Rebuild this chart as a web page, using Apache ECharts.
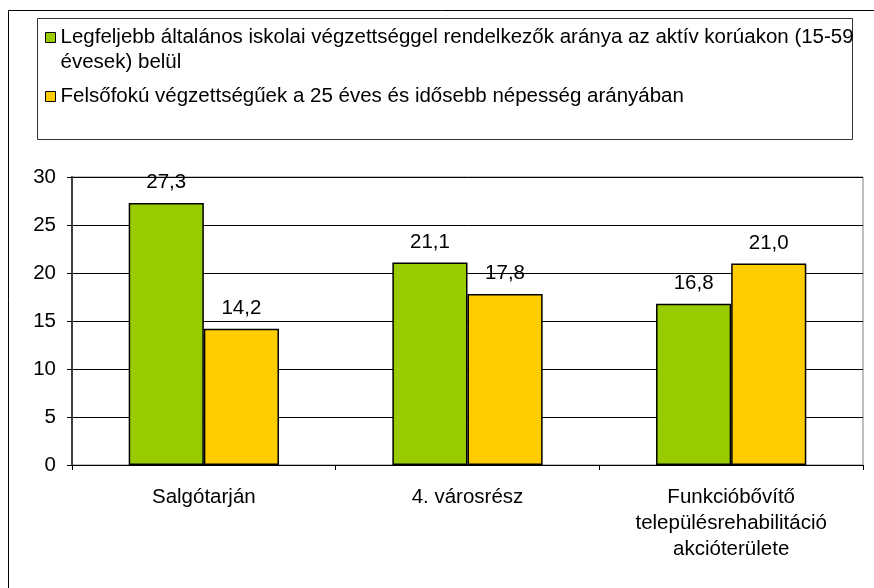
<!DOCTYPE html>
<html>
<head>
<meta charset="utf-8">
<script src="https://cdn.jsdelivr.net/npm/echarts@6/dist/echarts.min.js"></script>
<style>
html, body { margin: 0; padding: 0; background: #fff; }
#chart { width: 874px; height: 588px; }
</style>
</head>
<body>
<div id="chart"></div>
<script>
// adatok
var categories = ['Salgótarján', '4. városrész', 'Funkcióbővítő\ntelepülésrehabilitáció\nakcióterülete'];
var seriesNames = [
    'Legfeljebb általános iskolai végzettséggel rendelkezők aránya az aktív korúakon (15-59 évesek) belül',
    'Felsőfokú végzettségűek a 25 éves és idősebb népesség arányában'
];
var lowEdu = [27.3, 21.1, 16.8];
var highEdu = [14.2, 17.8, 21.0];
var yTicks = [0, 5, 10, 15, 20, 25, 30];

var font = '"Liberation Sans", Arial, sans-serif';
var fs = 20.5;

function fmt(v) {
    return v.toFixed(1).replace('.', ',');
}

var chart = echarts.init(document.getElementById('chart'));

var barLabel = {
    show: true,
    position: 'top',
    distance: 10,
    fontFamily: font,
    fontSize: fs,
    color: '#000',
    formatter: function (p) { return fmt(p.value); }
};

var option = {
    animation: false,
    backgroundColor: '#fff',
    graphic: [
        // külső keret
        { type: 'rect', shape: { x: 8.5, y: 10.5, width: 900, height: 700 }, style: { fill: 'none', stroke: '#000', lineWidth: 1 }, z: -1 },
        // jelmagyarázat kerete
        { type: 'rect', shape: { x: 37.5, y: 18.5, width: 815, height: 121 }, style: { fill: '#fff', stroke: '#333', lineWidth: 1 }, z: -1 }
    ],
    legend: {
        orient: 'vertical',
        left: 45,
        top: 0,
        padding: 0,
        itemGap: 9,
        itemWidth: 10,
        itemHeight: 10,
        icon: 'rect',
        itemStyle: { borderColor: '#000', borderWidth: 1 },
        textStyle: { fontFamily: font, fontSize: fs, color: '#000', lineHeight: 25 },
        data: seriesNames,
        formatter: function (name) {
            // első sor az ikon mellett, a második alatta
            if (name === seriesNames[0]) {
                return '\n' + name.replace(' évesek)', '\névesek)');
            }
            return name;
        }
    },
    grid: {
        left: 72,
        top: 177,
        right: 11,
        bottom: 123,
        show: true,
        borderColor: '#808080',
        borderWidth: 1
    },
    xAxis: {
        type: 'category',
        data: categories,
        axisLine: { lineStyle: { color: '#000', width: 1 } },
        axisTick: { show: true, length: 5, lineStyle: { color: '#000' } },
        axisLabel: { fontFamily: font, fontSize: fs, color: '#000', margin: 19, lineHeight: 26 }
    },
    yAxis: {
        type: 'value',
        min: yTicks[0],
        max: yTicks[yTicks.length - 1],
        interval: 5,
        axisLine: { show: true, lineStyle: { color: '#404040', width: 2 } },
        axisTick: { show: true, length: 5, lineStyle: { color: '#000' } },
        axisLabel: { fontFamily: font, fontSize: fs, color: '#000', margin: 16 },
        splitLine: { lineStyle: { color: '#000', width: 1 } }
    },
    series: [
        {
            name: seriesNames[0],
            type: 'bar',
            data: lowEdu,
            barGap: '0%',
            barCategoryGap: '43%',
            itemStyle: { color: '#99CC00', borderColor: '#000', borderWidth: 1.5 },
            label: barLabel
        },
        {
            name: seriesNames[1],
            type: 'bar',
            data: highEdu,
            barGap: '0%',
            barCategoryGap: '43%',
            itemStyle: { color: '#FFCC00', borderColor: '#000', borderWidth: 1.5 },
            label: barLabel
        }
    ]
};

chart.setOption(option);
</script>
</body>
</html>
